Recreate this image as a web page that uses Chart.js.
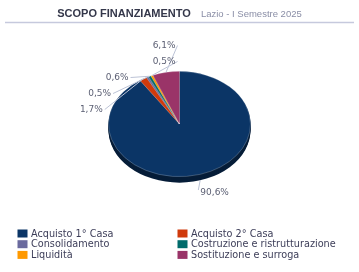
<!DOCTYPE html>
<html><head><meta charset="utf-8">
<script src="https://cdn.jsdelivr.net/npm/chart.js@4/dist/chart.umd.min.js"></script>
<style>html,body{margin:0;padding:0;background:#fff;overflow:hidden}canvas{display:block}</style>
</head><body>
<div style="width:359px;height:272px;position:relative"><canvas id="c" width="359" height="272"></canvas></div>
<script>
const titleText = 'SCOPO FINANZIAMENTO';
const subtitleText = 'Lazio - I Semestre 2025';
const categories = ['Acquisto 1° Casa','Acquisto 2° Casa','Consolidamento','Costruzione e ristrutturazione','Liquidità','Sostituzione e surroga'];
const shares = [90.6, 1.7, 0.5, 0.6, 0.5, 6.1];
const sliceColors = ['#0b3566','#d03a0c','#6a6a9e','#006b6b','#ff9900','#9a3468'];

const TILT = 53 / 71.5;
const DEPTH = 6;
const fmt = v => v.toFixed(1).replace('.', ',') + '%';

function darken(hex, f) {
  const n = parseInt(hex.slice(1), 16);
  const r = Math.round(((n >> 16) & 255) * f), g = Math.round(((n >> 8) & 255) * f), b = Math.round((n & 255) * f);
  return `rgb(${r},${g},${b})`;
}

const pie3d = {
  id: 'pie3d',
  beforeDraw(chart) {
    const ctx = chart.ctx, W = chart.width;
    ctx.save();
    ctx.textBaseline = 'alphabetic';
    ctx.font = 'bold 11px "Liberation Sans", Arial, sans-serif';
    const w1 = ctx.measureText(titleText).width;
    ctx.font = '9.5px "Liberation Sans", Arial, sans-serif';
    const w2 = ctx.measureText(subtitleText).width;
    const gap = 10;
    const x0 = (W - (w1 + gap + w2)) / 2;
    ctx.fillStyle = '#34374a';
    ctx.font = 'bold 11px "Liberation Sans", Arial, sans-serif';
    ctx.fillText(titleText, x0, 17);
    ctx.fillStyle = '#8a8ea6';
    ctx.font = '9.5px "Liberation Sans", Arial, sans-serif';
    ctx.fillText(subtitleText, x0 + w1 + gap, 17);
    ctx.strokeStyle = '#c6c9dd';
    ctx.lineWidth = 1.5;
    ctx.beginPath(); ctx.moveTo(5, 22.5); ctx.lineTo(W - 5, 22.5); ctx.stroke();
    ctx.restore();
  },
  beforeDatasetsDraw(chart) {
    const ctx = chart.ctx;
    const meta = chart.getDatasetMeta(0);
    const a0 = meta.data[0];
    const cx = a0.x, cy = a0.y;
    ctx.save();
    for (let off = DEPTH; off >= 1; off--) {
      meta.data.forEach((arc, i) => {
        const r = arc.outerRadius;
        ctx.beginPath();
        ctx.moveTo(cx, cy + off);
        ctx.ellipse(cx, cy + off, r, r * TILT, 0, arc.startAngle, arc.endAngle);
        ctx.closePath();
        ctx.fillStyle = darken(sliceColors[i], 0.55);
        ctx.fill();
      });
    }
    ctx.restore();
    ctx.save();
    ctx.translate(cx, cy); ctx.scale(1, TILT); ctx.translate(-cx, -cy);
  },
  afterDatasetsDraw(chart) {
    const ctx = chart.ctx;
    ctx.restore();
    const meta = chart.getDatasetMeta(0);
    const a0 = meta.data[0];
    const cx = a0.x, cy = a0.y, r = a0.outerRadius, ry = r * TILT;
    const Rx = r + 4, Ry = ry + 7, SP = 16;
    const items = meta.data.map((arc, i) => {
      const mid = (arc.startAngle + arc.endAngle) / 2;
      return { i, mid, c: Math.cos(mid), s: Math.sin(mid), ny: cy + Ry * Math.sin(mid) };
    });
    ctx.save();
    ctx.font = '9px "DejaVu Sans", Verdana, sans-serif';
    ctx.fillStyle = '#5b5f73';
    ctx.strokeStyle = '#bcc3d6';
    ctx.lineWidth = 1;
    ctx.textBaseline = 'middle';
    // left side: resolve overlaps by clustering
    const left = items.filter(o => o.c < 0).sort((a, b) => a.ny - b.ny);
    let clusters = left.map(o => ({ list: [o], center: o.ny }));
    let merged = true;
    while (merged) {
      merged = false;
      for (let k = 0; k < clusters.length - 1; k++) {
        const A = clusters[k], B = clusters[k + 1];
        const aEnd = A.center + (A.list.length - 1) * SP / 2;
        const bStart = B.center - (B.list.length - 1) * SP / 2;
        if (bStart - aEnd < SP) {
          const list = A.list.concat(B.list);
          const center = list.reduce((s, o) => s + o.ny, 0) / list.length;
          clusters.splice(k, 2, { list, center });
          merged = true; break;
        }
      }
    }
    const topLimit = chart.chartArea.top - 7;
    clusters.forEach(cl => {
      let start = cl.center - (cl.list.length - 1) * SP / 2;
      if (start < topLimit) start = topLimit;
      cl.list.forEach((o, k) => {
        const y = start + k * SP;
        const dy = y - cy;
        const q = Math.abs(dy) < Ry ? Math.sqrt(1 - (dy / Ry) ** 2) : 0;
        const x = cx - Rx * q - 4;
        const px = cx + r * o.c, py = cy + ry * o.s;
        ctx.beginPath(); ctx.moveTo(x + 2, y); ctx.lineTo(px, py); ctx.stroke();
        ctx.textAlign = 'right';
        ctx.fillText(fmt(shares[o.i]), x, y);
      });
    });
    // right side
    items.filter(o => o.c >= 0).forEach(o => {
      const dy = Ry * o.s;
      const y = cy + dy + (o.s > 0 ? 2 * DEPTH : 0);
      const q = Math.sqrt(Math.max(0, 1 - (dy / Ry) ** 2));
      const x = cx + Rx * q - 1;
      const px = cx + r * o.c, py = cy + ry * o.s + (o.s > 0 ? DEPTH : 0);
      ctx.beginPath(); ctx.moveTo(px, py); ctx.lineTo(x - 2, y - 3); ctx.stroke();
      ctx.textAlign = 'left';
      ctx.fillText(fmt(shares[o.i]), x, y);
    });
    ctx.restore();
  },
  afterDraw(chart) {
    const ctx = chart.ctx;
    ctx.save();
    ctx.font = '9.7px "DejaVu Sans", Verdana, sans-serif';
    ctx.textBaseline = 'middle';
    ctx.textAlign = 'left';
    const colX = [17.5, 177.5], rowY0 = 229.5, rowH = 10.7;
    categories.forEach((name, i) => {
      const col = i % 2, row = Math.floor(i / 2);
      const bx = colX[col], by = rowY0 + row * rowH;
      ctx.fillStyle = sliceColors[i];
      ctx.fillRect(bx, by, 10, 8);
      ctx.fillStyle = '#3c3d58';
      ctx.fillText(name, bx + 13.5, by + 4.5);
    });
    ctx.restore();
  }
};

new Chart(document.getElementById('c'), {
  type: 'pie',
  data: {
    labels: categories,
    datasets: [{
      data: shares,
      backgroundColor: sliceColors,
      borderColor: 'rgba(255,255,255,0.25)',
      borderWidth: 1,
      clip: false
    }]
  },
  options: {
    responsive: false,
    animation: false,
    events: [],
    layout: { padding: { left: 108, right: 108, top: 52.5, bottom: 76.5 } },
    plugins: { legend: { display: false }, title: { display: false }, tooltip: { enabled: false } }
  },
  plugins: [pie3d]
});
</script>
</body></html>
